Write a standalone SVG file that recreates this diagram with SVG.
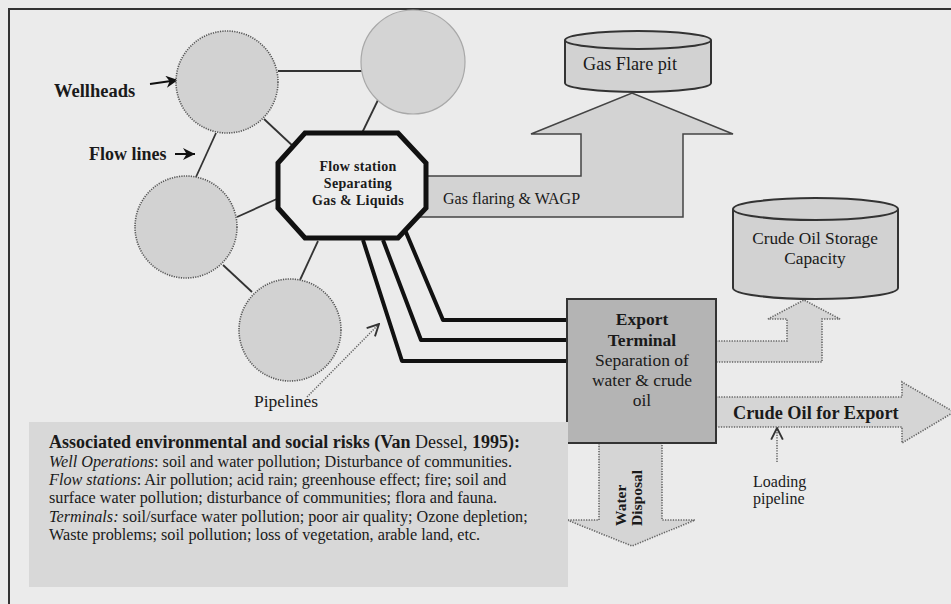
<svg xmlns="http://www.w3.org/2000/svg" width="951" height="604" viewBox="0 0 951 604">
<defs>
<style>
.bg{fill:#ebebeb}
.frame{fill:none;stroke:#333;stroke-width:2}
.well{fill:#d2d2d2;stroke:#555;stroke-width:1.6;stroke-dasharray:1.2 1.2}
.well2{fill:#d4d4d4;stroke:#a8a8a8;stroke-width:1.2}
.flow{stroke:#333;stroke-width:1.8;fill:none}
.pipe{stroke:#111;stroke-width:4;fill:none;stroke-linejoin:round}
.cyl{fill:#d2d2d2;stroke:#333;stroke-width:2}
.solidarrow{fill:#d3d3d3;stroke:#444;stroke-width:1.5}
.dotarrow{fill:#d5d5d5;stroke:#666;stroke-width:1.6;stroke-dasharray:1.3 1.3}
.ptr{stroke:#666;stroke-width:1.5;stroke-dasharray:1.3 1.3;fill:none}
.lbl{font-family:"Liberation Serif","Times New Roman",serif;fill:#1a1a1a}
.b{font-weight:bold}
</style>
<marker id="solidHead" viewBox="0 0 10 10" refX="10" refY="5" markerWidth="13" markerHeight="12" markerUnits="userSpaceOnUse" orient="auto">
<path d="M0,0 L10,5 L0,10 L3,5 z" fill="#111"/>
</marker>
<marker id="openHead" viewBox="0 0 12 12" refX="11" refY="6" markerWidth="14" markerHeight="14" markerUnits="userSpaceOnUse" orient="auto">
<path d="M1,1 L11,6 L1,11" fill="none" stroke="#333" stroke-width="1.6"/>
</marker>
</defs>
<rect class="bg" x="0" y="0" width="951" height="604"/>
<rect class="frame" x="9" y="9" width="960" height="620"/>

<g id="connectors">
<line class="flow" x1="278" y1="71" x2="362" y2="71"/>
<line class="flow" x1="264" y1="119" x2="295" y2="148"/>
<line class="flow" x1="378" y1="100" x2="362" y2="133"/>
<line class="flow" x1="216" y1="133" x2="196" y2="177"/>
<line class="flow" x1="237" y1="217" x2="279" y2="198"/>
<line class="flow" x1="223" y1="265" x2="252" y2="292"/>
<line class="flow" x1="318" y1="241" x2="300" y2="280"/>
<polyline class="pipe" points="405,230 443,320 568,320"/>
<polyline class="pipe" points="383,240 421,340 568,340"/>
<polyline class="pipe" points="363,240 402,361 568,361"/>
<line x1="150" y1="84" x2="178" y2="80" stroke="#111" stroke-width="2" marker-end="url(#solidHead)"/>
<line x1="175" y1="154" x2="195" y2="154" stroke="#111" stroke-width="2" marker-end="url(#solidHead)"/>
<line class="ptr" x1="307" y1="397" x2="379" y2="324" marker-end="url(#openHead)"/>
<line class="ptr" x1="777" y1="462" x2="777" y2="428" marker-end="url(#openHead)"/>
</g>

<g id="arrow-gas-flaring">
<polygon class="solidarrow" points="400,176 581,176 581,134 531,134 632,93 733,134 683,134 683,217 400,217"/>
<text class="lbl" x="443" y="204" font-size="16">Gas flaring &amp; WAGP</text>
</g>

<g id="arrow-storage">
<polygon class="dotarrow" points="716,341 787,341 787,319 768,319 804,300 840,319 822,319 822,362 716,362"/>
</g>

<g id="arrow-export">
<polygon class="dotarrow" points="716,397 902,397 902,382 954,412 902,443 902,427 716,427"/>
<text class="lbl b" x="733" y="419" font-size="18.3">Crude Oil for Export</text>
</g>

<g id="arrow-water">
<polygon class="dotarrow" points="599,443 662,443 662,520 695,520 632,546 567,520 599,520"/>
<text class="lbl b" font-size="15.5" transform="translate(626,526) rotate(-90)">Water</text>
<text class="lbl b" font-size="15.5" transform="translate(642,526) rotate(-90)">Disposal</text>
</g>

<g id="wellhead-1">
<circle class="well" cx="227" cy="82" r="51"/>
</g>
<g id="wellhead-2">
<circle class="well2" cx="413" cy="62" r="52"/>
</g>
<g id="wellhead-3">
<circle class="well" cx="186" cy="227" r="51"/>
</g>
<g id="wellhead-4">
<circle class="well" cx="290" cy="330" r="51"/>
</g>

<g id="flow-station">
<polygon points="305,133 398,133 426,163 426,208 398,238 305,238 278,208 278,163" fill="#ededed" stroke="#111" stroke-width="5" stroke-linejoin="miter"/>
<text class="lbl b" font-size="14" text-anchor="middle" letter-spacing="0.3"><tspan x="358" y="171">Flow station</tspan><tspan x="358" y="188">Separating</tspan><tspan x="358" y="205">Gas &amp; Liquids</tspan></text>
</g>

<g id="gas-flare-pit">
<path class="cyl" d="M565,40 L565,83 A73,9 0 0 0 711,83 L711,40 A73,9 0 0 0 565,40 A73,9 0 0 0 711,40"/>
<text class="lbl" x="630" y="70" font-size="18.2" text-anchor="middle">Gas Flare pit</text>
</g>

<g id="crude-storage">
<path class="cyl" d="M733,209 L733,288 A82.5,11 0 0 0 898,288 L898,209 A82.5,11 0 0 0 733,209 A82.5,11 0 0 0 898,209"/>
<text class="lbl" font-size="17.3" text-anchor="middle"><tspan x="815" y="244">Crude Oil Storage</tspan><tspan x="815" y="264">Capacity</tspan></text>
</g>

<g id="export-terminal">
<rect x="567" y="299" width="149" height="144" fill="#b4b4b4" stroke="#333" stroke-width="2"/>
<text class="lbl" font-size="17.5" text-anchor="middle"><tspan class="b" x="642" y="325">Export</tspan><tspan class="b" x="642" y="346">Terminal</tspan><tspan x="642" y="366">Separation of</tspan><tspan x="642" y="386">water &amp; crude</tspan><tspan x="642" y="406">oil</tspan></text>
</g>

<g id="labels">
<text class="lbl b" x="54" y="97" font-size="18.5">Wellheads</text>
<text class="lbl b" x="89" y="160" font-size="18">Flow lines</text>
<text class="lbl" x="254" y="407" font-size="17.5">Pipelines</text>
<text class="lbl" font-size="16"><tspan x="753" y="487">Loading</tspan><tspan x="753" y="504">pipeline</tspan></text>
</g>

<g id="risks">
<rect x="29" y="422" width="539" height="165" fill="#d8d8d8"/>
<text class="lbl" font-size="16.2">
<tspan x="49" y="448" class="b" font-size="18">Associated environmental and social risks (Van <tspan font-weight="normal">Dessel,</tspan> 1995):</tspan>
<tspan x="49" y="467"><tspan font-style="italic">Well Operations</tspan>: soil and water pollution; Disturbance of communities.</tspan>
<tspan x="49" y="485"><tspan font-style="italic">Flow stations</tspan>: Air pollution; acid rain; greenhouse effect; fire; soil and</tspan>
<tspan x="49" y="503">surface water pollution; disturbance of communities; flora and fauna.</tspan>
<tspan x="49" y="522"><tspan font-style="italic">Terminals:</tspan> soil/surface water pollution; poor air quality; Ozone depletion;</tspan>
<tspan x="49" y="540">Waste problems; soil pollution; loss of vegetation, arable land, etc.</tspan>
</text>
</g>
</svg>
